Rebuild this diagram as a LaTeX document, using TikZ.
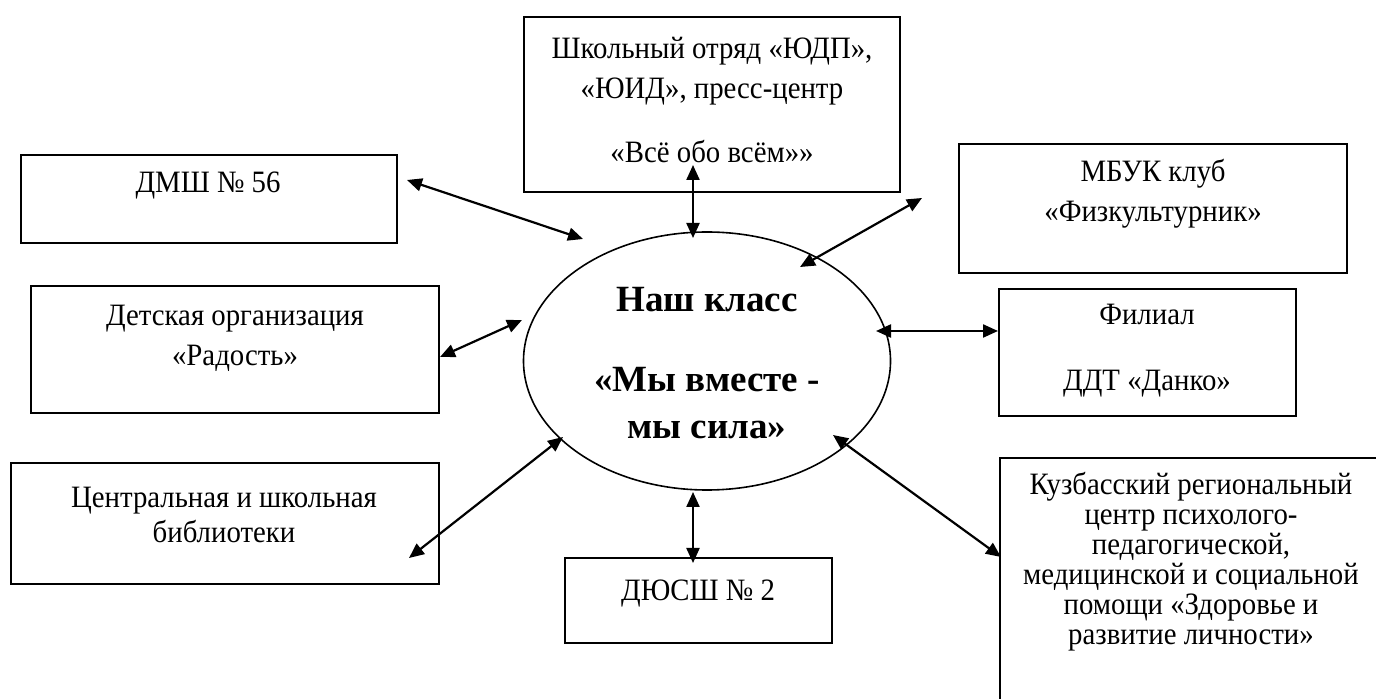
\documentclass[tikz,border=0pt]{standalone}
\usepackage{fontspec}
\setmainfont{Liberation Serif}
\usetikzlibrary{shapes.geometric, arrows.meta, fit}

\tikzset{
  box/.style={draw, line width=1pt, inner sep=0pt},
  txt/.style={align=center, font=\fontsize{14.4}{18.5}\selectfont, yscale=1.08, transform shape},
  link/.style={<->, line width=1.1pt}
}

\begin{document}
\begin{tikzpicture}[x=0.5pt, y=-0.5pt, >={Triangle[length=7.5pt,width=6.5pt]}]
  \useasboundingbox (0,0) rectangle (1376,699);
  % Centre
  \node[draw, ellipse, line width=0.8pt, inner sep=0pt, minimum width=183.5pt, minimum height=129pt] (klass) at (707,361) {};
  \node[align=center, font=\bfseries\fontsize{18.5}{23.5}\selectfont] (klass-t) at (707,363) {Наш класс\\[16.5pt]«Мы вместе -\\мы сила»};
  % Boxes
  \node[box, fit={(524,17) (900,192)}] (school) {};
  \node[box, fit={(21,155) (397,243)}] (dmsh) {};
  \node[box, fit={(31,286) (439,413)}] (radost) {};
  \node[box, fit={(11,463) (439,584)}] (library) {};
  \node[box, fit={(565,558) (832,643)}] (dyussh) {};
  \node[box, fit={(959,144) (1347,273)}] (mbuk) {};
  \node[box, fit={(999,289) (1296,416)}] (danko) {};
  \node[box, fit={(1000,458) (1400,720)}] (kuzbass) {};
  % Labels
  \node[txt] (school-t) at (712,100) {Школьный отряд «ЮДП»,\\«ЮИД», пресс-центр\\[11.5pt]«Всё обо всём»»};
  \node[txt] (dmsh-t) at (208,186) {ДМШ № 56};
  \node[txt] (radost-t) at (235,338) {Детская организация\\«Радость»};
  \node[txt] (library-t) at (224,515) {Центральная и школьная\\[-2pt]библиотеки};
  \node[txt] (dyussh-t) at (698,594) {ДЮСШ № 2};
  \node[txt] (mbuk-t) at (1153,194) {МБУК клуб\\«Физкультурник»};
  \node[txt] (danko-t) at (1147,351) {Филиал\\[12pt]ДДТ «Данко»};
  \node[txt, font=\fontsize{14.4}{13.9}\selectfont] (kuzbass-t) at (1191,562) {Кузбасский региональный\\центр психолого-\\педагогической,\\медицинской и социальной\\помощи «Здоровье и\\развитие личности»};
  % Arrow ends
  \coordinate (school-end) at (693,165);   \coordinate (klass-school) at (693,238);
  \coordinate (dmsh-end) at (407,180);     \coordinate (klass-dmsh) at (583,239);
  \coordinate (radost-end) at (440,357);   \coordinate (klass-radost) at (522,320);
  \coordinate (library-end) at (409,558);  \coordinate (klass-library) at (563,437);
  \coordinate (dyussh-end) at (693,563);   \coordinate (klass-dyussh) at (693,492);
  \coordinate (mbuk-end) at (922,198);     \coordinate (klass-mbuk) at (800,267);
  \coordinate (danko-end) at (998,331);    \coordinate (klass-danko) at (876,331);
  \coordinate (kuzbass-end) at (1001,557); \coordinate (klass-kuzbass) at (833,435);
  % Arrows
  \foreach \a in {school, dmsh, radost, library, dyussh, mbuk, danko, kuzbass} {
    \draw[link] (\a-end) -- (klass-\a);
  }
\end{tikzpicture}
\end{document}
